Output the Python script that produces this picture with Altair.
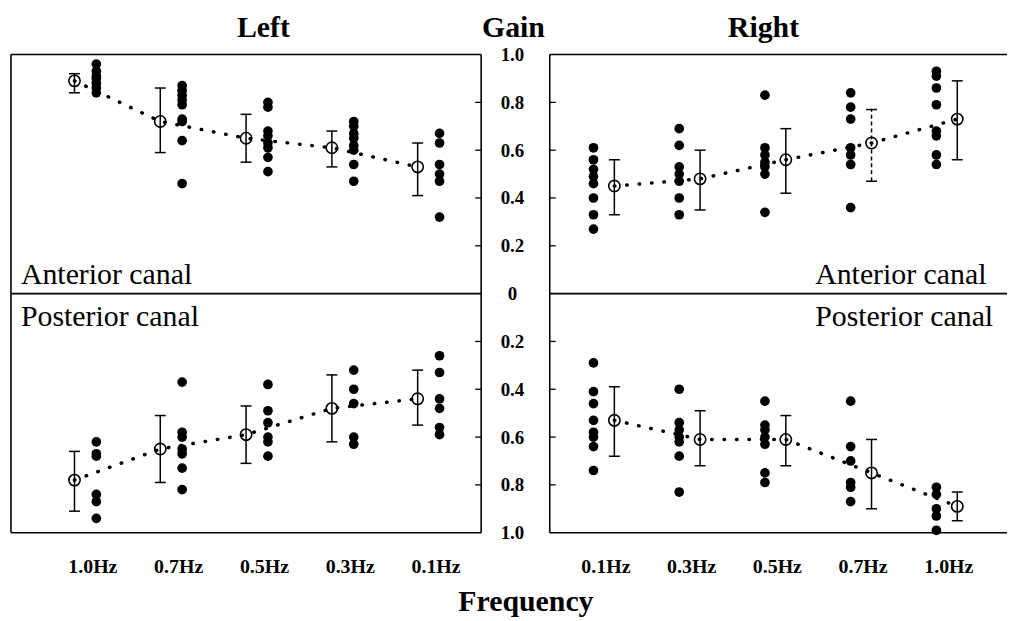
import altair as alt
import pandas as pd

FONT = "Liberation Serif"

# ---------------- data (gain values) ----------------
FREQ_LEFT = ["1.0Hz", "0.7Hz", "0.5Hz", "0.3Hz", "0.1Hz"]
FREQ_RIGHT = ["0.1Hz", "0.3Hz", "0.5Hz", "0.7Hz", "1.0Hz"]

GAIN_TICKS = [1.0, 0.8, 0.6, 0.4, 0.2, 0.0, -0.2, -0.4, -0.6, -0.8, -1.0]
INNER_TICKS = [0.8, 0.6, 0.4, 0.2, -0.2, -0.4, -0.6, -0.8]
FRAME_LINES = [1.0, 0.0, -1.0]
CANAL_NAMES = ["Anterior canal", "Posterior canal"]
SIDE_NAMES = ["Left", "Right"]

# Left side, anterior canal
LA_MEAN = [0.89, 0.72, 0.65, 0.61, 0.53]
LA_LO = [0.84, 0.59, 0.55, 0.53, 0.41]
LA_HI = [0.92, 0.86, 0.75, 0.68, 0.63]
LA_DASH = [False, False, False, False, False]
LA_PTS = [
    [0.96, 0.93, 0.91, 0.90, 0.88, 0.86, 0.84],
    [0.87, 0.85, 0.83, 0.81, 0.79, 0.73, 0.72, 0.64, 0.46],
    [0.80, 0.78, 0.68, 0.66, 0.63, 0.61, 0.57, 0.51],
    [0.72, 0.70, 0.67, 0.65, 0.62, 0.60, 0.54, 0.47],
    [0.67, 0.63, 0.54, 0.50, 0.47, 0.32],
]

# Left side, posterior canal
LP_MEAN = [0.78, 0.65, 0.59, 0.48, 0.44]
LP_LO = [0.66, 0.51, 0.47, 0.34, 0.32]
LP_HI = [0.91, 0.79, 0.71, 0.62, 0.55]
LP_DASH = [False, False, False, False, False]
LP_PTS = [
    [0.62, 0.67, 0.68, 0.84, 0.87, 0.94],
    [0.37, 0.58, 0.60, 0.65, 0.67, 0.73, 0.82],
    [0.38, 0.49, 0.54, 0.60, 0.62, 0.68],
    [0.32, 0.40, 0.46, 0.60, 0.63],
    [0.26, 0.33, 0.44, 0.48, 0.56, 0.59],
]

# Right side, anterior canal
RA_MEAN = [0.45, 0.48, 0.56, 0.63, 0.73]
RA_LO = [0.33, 0.35, 0.42, 0.47, 0.56]
RA_HI = [0.56, 0.60, 0.69, 0.77, 0.89]
RA_DASH = [False, False, False, True, False]
RA_PTS = [
    [0.61, 0.56, 0.52, 0.49, 0.46, 0.40, 0.33, 0.27],
    [0.69, 0.62, 0.53, 0.50, 0.47, 0.40, 0.33],
    [0.83, 0.61, 0.58, 0.55, 0.53, 0.50, 0.34],
    [0.84, 0.78, 0.73, 0.61, 0.58, 0.54, 0.36],
    [0.93, 0.91, 0.86, 0.79, 0.68, 0.66, 0.58, 0.54],
]

# Right side, posterior canal
RP_MEAN = [0.53, 0.61, 0.61, 0.75, 0.89]
RP_LO = [0.39, 0.49, 0.51, 0.61, 0.83]
RP_HI = [0.68, 0.72, 0.72, 0.90, 0.95]
RP_DASH = [False, False, False, False, False]
RP_PTS = [
    [0.29, 0.41, 0.46, 0.53, 0.58, 0.60, 0.64, 0.74],
    [0.40, 0.54, 0.57, 0.60, 0.62, 0.68, 0.83],
    [0.45, 0.55, 0.57, 0.60, 0.63, 0.75, 0.79],
    [0.45, 0.64, 0.70, 0.79, 0.81, 0.87],
    [0.81, 0.84, 0.90, 0.93, 0.99],
]


def frames(freqs, canals):
    pts, means = [], []
    for name, sign, mean, lo, hi, dash, ptlists in canals:
        for i, f in enumerate(freqs):
            means.append(dict(canal=name, freq=f, mean=sign * mean[i],
                              lo=sign * lo[i], hi=sign * hi[i], dashed=dash[i]))
            for v in ptlists[i]:
                pts.append(dict(canal=name, freq=f, gain=sign * v))
    return pd.DataFrame(pts), pd.DataFrame(means)


L_PTS, L_MEANS = frames(FREQ_LEFT, [
    ("Anterior", 1, LA_MEAN, LA_LO, LA_HI, LA_DASH, LA_PTS),
    ("Posterior", -1, LP_MEAN, LP_LO, LP_HI, LP_DASH, LP_PTS)])
R_PTS, R_MEANS = frames(FREQ_RIGHT, [
    ("Anterior", 1, RA_MEAN, RA_LO, RA_HI, RA_DASH, RA_PTS),
    ("Posterior", -1, RP_MEAN, RP_LO, RP_HI, RP_DASH, RP_PTS)])

FRAME_DF = pd.DataFrame({"g": FRAME_LINES})
TICK_DF = pd.DataFrame({"g": INNER_TICKS})
ONE = pd.DataFrame({"a": [0]})

H = 481


def panel(freqs, pts, means, width, pad, align, dot_off, label_off,
          title, title_x, center_axis, text_x, right_border):
    xsc = alt.Scale(domain=freqs, type="point", padding=pad, align=align)
    ysc = alt.Scale(domain=[-1, 1], nice=False, zero=False)
    xaxis = alt.Axis(title=None, labelAngle=0, ticks=False, domain=False, grid=False,
                     labelPadding=24, labelFont=FONT, labelFontSize=20,
                     labelFontWeight="bold", labelColor="black", labelOffset=label_off)
    if center_axis:
        yaxis = alt.Axis(values=GAIN_TICKS, title="Gain", titleAngle=0, titleX=-37,
                         titleY=-18, titleAlign="center", titleBaseline="alphabetic",
                         titleFont=FONT, titleFontSize=30, titleFontWeight="bold",
                         titleColor="black",
                         labelExpr="abs(datum.value) < 0.001 ? '0' : format(abs(datum.value), '.1f')",
                         labelAlign="center", labelBaseline="middle", labelPadding=38,
                         labelFont=FONT, labelFontSize=19, labelFontWeight="bold",
                         labelColor="black", ticks=False, domain=False, grid=False)
    else:
        yaxis = None

    X = alt.X("freq:N", scale=xsc, axis=xaxis)
    bm = alt.Chart(means)

    line = bm.mark_line(color="black", strokeWidth=3.5, strokeDash=[0.5, 12],
                        strokeCap="round").encode(
        x=X, y=alt.Y("mean:Q", scale=ysc, axis=yaxis), detail="canal:N")
    bars = bm.mark_rule(color="black", strokeWidth=1.5).encode(
        x=X, y=alt.Y("lo:Q", scale=ysc), y2="hi:Q",
        strokeDash=alt.condition("datum.dashed", alt.value([4, 3]), alt.value([1, 0])))
    cap_lo = bm.mark_tick(orient="horizontal", size=11, thickness=1.5, color="black",
                          opacity=1).encode(x=X, y=alt.Y("lo:Q", scale=ysc))
    cap_hi = bm.mark_tick(orient="horizontal", size=11, thickness=1.5, color="black",
                          opacity=1).encode(x=X, y=alt.Y("hi:Q", scale=ysc))
    dots = alt.Chart(pts).mark_circle(size=95, color="black", opacity=1,
                                      xOffset=dot_off).encode(
        x=X, y=alt.Y("gain:Q", scale=ysc))
    mpts = bm.mark_point(shape="circle", filled=False, size=130, color="black",
                         strokeWidth=1.6, opacity=1).encode(
        x=X, y=alt.Y("mean:Q", scale=ysc))

    hlines = alt.Chart(FRAME_DF).mark_rule(color="black", strokeWidth=1.6).encode(
        y=alt.Y("g:Q", scale=ysc))
    vleft = alt.Chart(ONE).mark_rule(color="black", strokeWidth=1.6).encode(
        x=alt.value(0))
    layers = [hlines, vleft]
    if right_border:
        layers.append(alt.Chart(ONE).mark_rule(color="black", strokeWidth=1.6).encode(
            x=alt.value(width)))
        tick_x = width - 3
    else:
        tick_x = 3
    layers.append(alt.Chart(TICK_DF).mark_tick(orient="horizontal", size=6, thickness=1.3,
                                               color="black", opacity=1).encode(
        x=alt.value(tick_x), y=alt.Y("g:Q", scale=ysc)))

    t_ant = alt.Chart(ONE).mark_text(text=CANAL_NAMES[0], align="left",
                                     baseline="alphabetic", font=FONT, fontSize=30,
                                     color="black", dy=-10).encode(
        x=alt.value(text_x), y=alt.datum(0))
    t_post = alt.Chart(ONE).mark_text(text=CANAL_NAMES[1], align="left",
                                      baseline="alphabetic", font=FONT, fontSize=30,
                                      color="black", dy=33).encode(
        x=alt.value(text_x), y=alt.datum(0))
    t_side = alt.Chart(ONE).mark_text(text=title, align="center", baseline="alphabetic",
                                      font=FONT, fontSize=30, fontWeight="bold",
                                      color="black").encode(
        x=alt.value(title_x), y=alt.value(-18))

    return alt.layer(line, *layers, bars, cap_lo, cap_hi, dots, mpts,
                     t_ant, t_post, t_side).properties(width=width, height=H)


left = panel(FREQ_LEFT, L_PTS, L_MEANS, 473, 0.74, 0.5, 22, 18,
             SIDE_NAMES[0], 254, False, 10, True)
right = panel(FREQ_RIGHT, R_PTS, R_MEANS, 460, 0.667, 0.565, -21, -9,
              SIDE_NAMES[1], 215, True, 267, False)

chart = alt.hconcat(left, right, spacing=69, bounds="flush").properties(
    title=alt.TitleParams("Frequency", orient="bottom", anchor="middle", font=FONT,
                          fontSize=30, fontWeight="bold", color="black", dx=17, offset=11),
    padding={"left": 2, "top": 3, "right": 0, "bottom": 0},
    background="white",
).configure_view(strokeWidth=0)

chart.save("out.html", embed_options={"renderer": "svg", "actions": False})
